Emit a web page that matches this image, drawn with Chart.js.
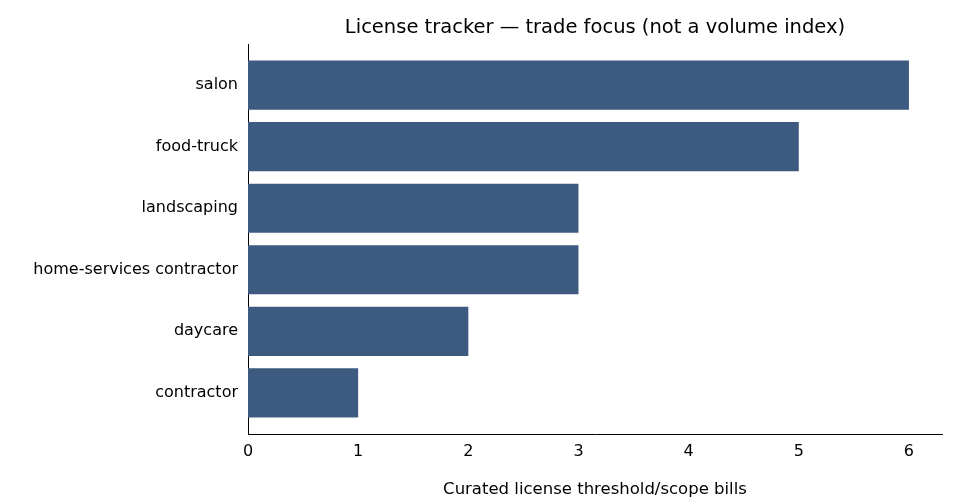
<!DOCTYPE html>
<html><head><meta charset="utf-8">
<script src="https://cdn.jsdelivr.net/npm/chart.js@4"></script>
<style>html,body{margin:0;padding:0;background:#fff}#w{width:960px;height:504px}</style>
</head><body><div id="w"><canvas id="c"></canvas></div>
<script>
const categories = ["salon","food-truck","landscaping","home-services contractor","daycare","contractor"];
const billCounts = [6,5,3,3,2,1];
const xTicks = [0,1,2,3,4,5,6];
const titleText = "License tracker — trade focus (not a volume index)";
const xLabel = "Curated license threshold/scope bills";
Chart.defaults.font.family = "DejaVu Sans";
Chart.defaults.color = "#000";
const titlePlugin = { id: 'tp', afterDraw(ch) {
  const a = ch.chartArea, c = ch.ctx; c.save();
  c.font = "19.5px 'DejaVu Sans'"; c.fillStyle = '#000'; c.textAlign = 'center'; c.textBaseline = 'alphabetic';
  c.fillText(titleText, (a.left + a.right) / 2, 33); c.restore(); } };
new Chart(document.getElementById('c'), {
  type: 'bar',
  data: { datasets: [{ data: billCounts.map((v, i) => ({ x: v, y: i })), backgroundColor: '#3d5a80', barPercentage: 0.8, categoryPercentage: 1.0 }] },
  plugins: [titlePlugin],
  options: {
    indexAxis: 'y', responsive: true, maintainAspectRatio: false, animation: false,
    layout: { padding: { top: 44, right: 18, bottom: 0, left: 0 } },
    plugins: { legend: { display: false }, tooltip: { enabled: false } },
    scales: {
      x: { type: 'linear', min: 0, max: 6.3, grid: { display: false, tickLength: 5 },
        border: { color: '#000' },
        afterBuildTicks: ax => { ax.ticks = xTicks.map(v => ({ value: v })); },
        ticks: { font: { size: 16 }, padding: 3 },
        title: { display: true, text: xLabel, font: { size: 16.5 }, padding: { top: 2 } },
        afterFit: ax => { ax.height = 70; } },
      y: { type: 'linear', reverse: true, min: -0.67, max: 5.67, offset: false,
        grid: { display: false, tickLength: 5 }, border: { color: '#000' },
        afterBuildTicks: ax => { ax.ticks = categories.map((_, i) => ({ value: i })); },
        ticks: { font: { size: 16 }, padding: 5, callback: v => categories[v] },
        afterFit: ax => { ax.width = 248; } }
    }
  }
});
</script></body></html>
